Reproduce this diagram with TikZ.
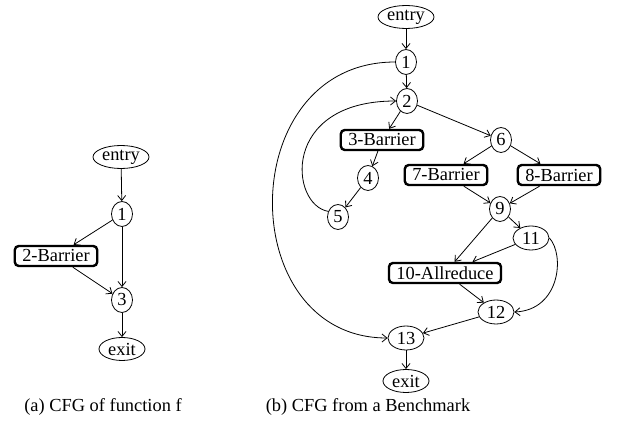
\documentclass[tikz,border=0pt]{standalone}
\usepackage{fontspec}
\setmainfont{Liberation Serif}
\usetikzlibrary{shapes.geometric,arrows.meta}
\tikzset{
  oval/.style={draw, ellipse, inner sep=0pt, line width=0.8pt},
  numA/.style={oval, minimum width=21pt, minimum height=25pt},
  numB/.style={oval, minimum width=36pt, minimum height=24pt},
  term/.style={oval, minimum width=56pt, minimum height=23pt},
  exitn/.style={oval, minimum width=46pt, minimum height=23pt},
  barrier/.style={draw, rounded corners=4pt, line width=2.4pt, minimum height=20pt, inner xsep=7.5pt, inner ysep=0pt},
  edge/.style={-{Straight Barb[length=5pt,width=8pt]}, line width=0.8pt},
  capt/.style={inner sep=0pt}
}
\begin{document}
\begin{tikzpicture}[x=1pt,y=-1pt,font=\fontsize{18.4}{20}\selectfont]
\useasboundingbox (0,0) rectangle (619,430);
% (a)
\node[term]  (aentry) at (121,157) {entry};
\node[numA]  (a1) at (122,214) {1};
\node[barrier] (a2) at (56,256) {2-Barrier};
\node[numA]  (a3) at (122,300) {3};
\node[exitn] (aexit) at (122,349) {exit};
\draw[edge] (aentry) -- (a1);
\draw[edge] (a1) -- (a2);
\draw[edge] (a1) -- (a3);
\draw[edge] (a2) -- (a3);
\draw[edge] (a3) -- (aexit);
% (b)
\node[term]  (bentry) at (406,17) {entry};
\node[numA]  (b1) at (406,62) {1};
\node[numA]  (b2) at (407,101) {2};
\node[barrier] (b3) at (382,140) {3-Barrier};
\node[numA]  (b4) at (368,178) {4};
\node[numA]  (b5) at (338,217) {5};
\node[numA]  (b6) at (501,140) {6};
\node[barrier] (b7) at (446,175) {7-Barrier};
\node[barrier] (b8) at (559,175) {8-Barrier};
\node[numA]  (b9) at (500,209) {9};
\node[numB]  (b11) at (531,238) {11};
\node[barrier] (b10) at (445,273) {10-Allreduce};
\node[numB]  (b12) at (496,312) {12};
\node[numB]  (b13) at (406,338) {13};
\node[exitn] (bexit) at (406,381) {exit};
\draw[edge] (bentry) -- (b1);
\draw[edge] (b1) -- (b2);
\draw[edge] (b2) -- (b3);
\draw[edge] (b2) -- (b6);
\draw[edge] (b3) -- (b4);
\draw[edge] (b4) -- (b5);
\draw[edge] (b6) -- (b7);
\draw[edge] (b6) -- (b8);
\draw[edge] (b7) -- (b9);
\draw[edge] (b8) -- (b9);
\draw[edge] (b9) -- (b10);
\draw[edge] (b9) -- (b11);
\draw[edge] (b11) -- (b10);
\draw[edge] (b10) -- (b12);
\draw[edge] (b12) -- (b13);
\draw[edge] (b13) -- (bexit);
\draw[edge] (b1.west) .. controls (233,62) and (233,338) .. (b13.west);
\draw[edge] (b5.150) .. controls (290,205) and (280,101) .. (b2.west);
\draw[edge] (b11.east) .. controls (565,255) and (560,310) .. (b12.east);
% captions
\node[capt] (capa) at (103,407) {(a) CFG of function f};
\node[capt] (capb) at (368,407) {(b) CFG from a Benchmark};
\end{tikzpicture}
\end{document}
